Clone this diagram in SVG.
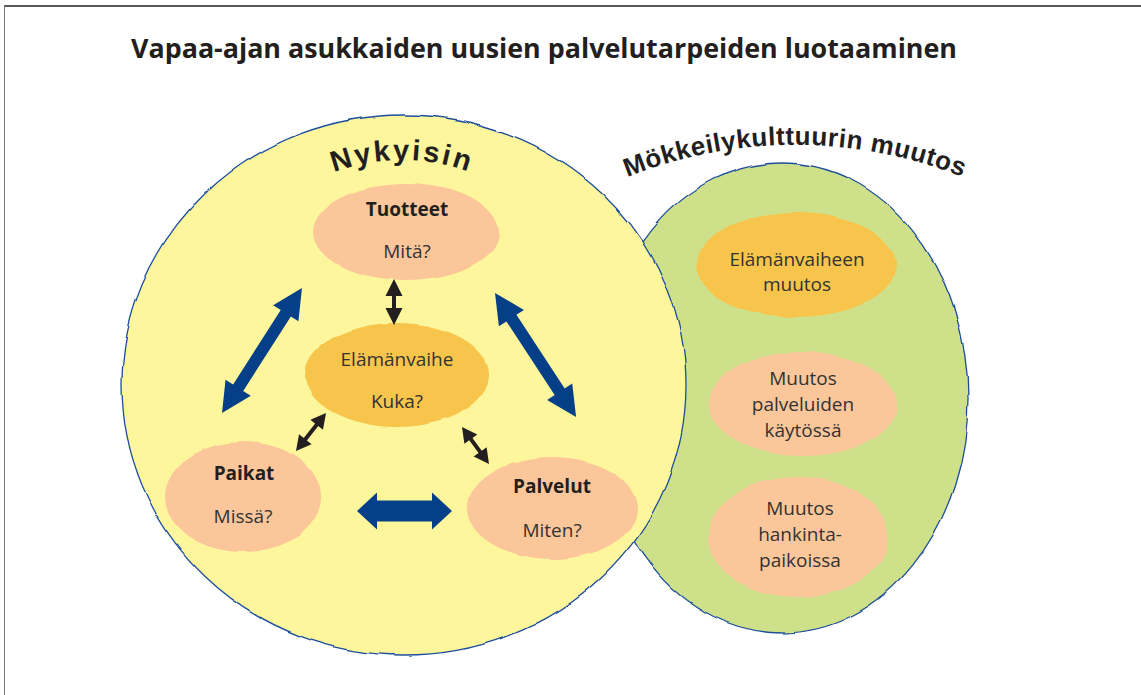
<svg xmlns="http://www.w3.org/2000/svg" width="1141" height="695" viewBox="0 0 1141 695">
<defs>
<style>
.big{stroke:#1d4f9c;stroke-width:1.3}
.peach{fill:#fbc79a}
.orange{fill:#f7c54c}
.t{font-family:"Open Sans","Noto Sans",sans-serif;font-size:19px;fill:#333;text-anchor:middle}
.b{font-weight:bold;fill:#231f20}
.arc{font-family:"Liberation Sans",Arial,sans-serif;font-weight:bold;fill:#231f20;text-anchor:middle}
.blue{fill:#053f88}
.blk{fill:#231f20}
</style>
<filter id="wob" x="-5%" y="-5%" width="110%" height="110%">
<feTurbulence type="fractalNoise" baseFrequency="0.035" numOctaves="1" seed="3" result="n"/>
<feDisplacementMap in="SourceGraphic" in2="n" scale="5" xChannelSelector="R" yChannelSelector="G"/>
</filter>
<path id="arcN" d="M 231.4,260.5 A 195,195 0 0 1 572.6,260.5"/>
<path id="arcM" d="M 504,251 A 452,452 0 0 1 1086,251"/>
</defs>
<rect width="1141" height="695" fill="#fff"/>
<line x1="4" y1="6" x2="1141" y2="6" stroke="#222" stroke-width="1.6"/>
<line x1="4.5" y1="6" x2="4.5" y2="695" stroke="#777" stroke-width="1"/>
<text x="131" y="58" font-family="'Open Sans','Noto Sans',sans-serif" font-weight="bold" font-size="26" fill="#231f20" textLength="826" lengthAdjust="spacingAndGlyphs">Vapaa-ajan asukkaiden uusien palvelutarpeiden luotaaminen</text>

<g id="green-area">
<ellipse class="big" cx="782" cy="398" rx="186" ry="235" fill="#cfe08a" filter="url(#wob)"/>
<text class="arc" font-size="26" letter-spacing="0.5"><textPath href="#arcM" startOffset="50%">Mökkeilykulttuurin muutos</textPath></text>
</g>
<g id="yellow-area">
<ellipse class="big" cx="404" cy="385" rx="282" ry="270" fill="#fef69c" filter="url(#wob)"/>
<text class="arc" font-size="29" letter-spacing="2.5"><textPath href="#arcN" startOffset="50%">Nykyisin</textPath></text>
</g>

<g id="tuotteet">
<ellipse class="peach" cx="406" cy="232" rx="93" ry="48" filter="url(#wob)"/>
<text class="t b" x="407" y="216">Tuotteet</text>
<text class="t" x="407" y="258">Mitä?</text>
</g>
<g id="elamanvaihe">
<ellipse class="orange" cx="397" cy="375" rx="92" ry="52" filter="url(#wob)"/>
<text class="t" x="397" y="366">Elämänvaihe</text>
<text class="t" x="397" y="408">Kuka?</text>
</g>
<g id="paikat">
<ellipse class="peach" cx="243" cy="497" rx="78" ry="55" filter="url(#wob)"/>
<text class="t b" x="244" y="480">Paikat</text>
<text class="t" x="243" y="523">Missä?</text>
</g>
<g id="palvelut">
<ellipse class="peach" cx="552" cy="508" rx="85" ry="51" filter="url(#wob)"/>
<text class="t b" x="552" y="493">Palvelut</text>
<text class="t" x="552" y="537">Miten?</text>
</g>
<g id="elamanvaiheen-muutos">
<ellipse class="orange" cx="796" cy="265" rx="100" ry="52" filter="url(#wob)"/>
<text class="t" x="797" y="266">Elämänvaiheen</text>
<text class="t" x="797" y="291">muutos</text>
</g>
<g id="muutos-palveluiden">
<ellipse class="peach" cx="803" cy="404" rx="94" ry="52" filter="url(#wob)"/>
<text class="t" x="803" y="385">Muutos</text>
<text class="t" x="803" y="411">palveluiden</text>
<text class="t" x="803" y="437">käytössä</text>
</g>
<g id="muutos-hankinta">
<ellipse class="peach" cx="798" cy="537" rx="90" ry="60" filter="url(#wob)"/>
<text class="t" x="800" y="515">Muutos</text>
<text class="t" x="800" y="541">hankinta-</text>
<text class="t" x="800" y="567">paikoissa</text>
</g>

<g id="connectors">
<polygon class="blue" transform="translate(222,413) rotate(-57.4)" points="0,0 30,-15 30,-6 118.4,-6 118.4,-15 148.4,0 118.4,15 118.4,6 30,6 30,15"/>
<polygon class="blue" transform="translate(495,293) rotate(56.8)" points="0,0 30,-15 30,-6 118.1,-6 118.1,-15 148.1,0 118.1,15 118.1,6 30,6 30,15"/>
<polygon class="blue" transform="translate(357,511)" points="0,0 20,-18.5 20,-10.5 75,-10.5 75,-18.5 95,0 75,18.5 75,10.5 20,10.5 20,18.5"/>
<polygon class="blk" transform="translate(394,279) rotate(90)" points="0,0 17,-8.5 17,-2 29,-2 29,-8.5 46,0 29,8.5 29,2 17,2 17,8.5"/>
<polygon class="blk" transform="translate(326,413) rotate(128.3)" points="0,0 15,-8 15,-2 33.4,-2 33.4,-8 48.4,0 33.4,8 33.4,2 15,2 15,8"/>
<polygon class="blk" transform="translate(462,427) rotate(53.9)" points="0,0 15,-8 15,-2 30.8,-2 30.8,-8 45.8,0 30.8,8 30.8,2 15,2 15,8"/>
</g>
</svg>
